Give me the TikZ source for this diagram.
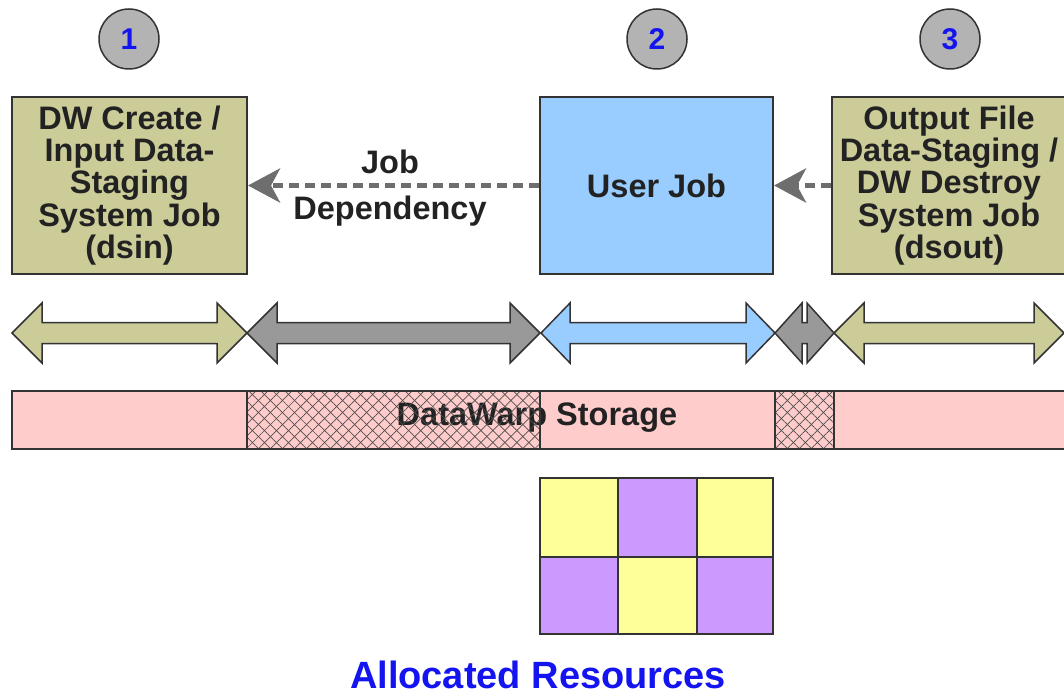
\documentclass[tikz,border=0pt]{standalone}
\usepackage{fontspec}
\setmainfont{Liberation Sans}
\usetikzlibrary{arrows.meta,patterns.meta}
\definecolor{khaki}{HTML}{CCCC99}
\definecolor{ujblue}{HTML}{99CCFF}
\definecolor{circgray}{HTML}{B3B3B3}
\definecolor{arrgray}{HTML}{999999}
\definecolor{dashgray}{HTML}{6E6E6E}
\definecolor{pinkst}{HTML}{FFCCCC}
\definecolor{ryellow}{HTML}{FFFF99}
\definecolor{rpurple}{HTML}{CC99FF}
\definecolor{edgec}{HTML}{333333}
\definecolor{numblue}{HTML}{1414F0}
\definecolor{txt}{HTML}{222222}
\newcommand\dwarrow[4]{% fill, left tip, right tip, head length
  \draw[tl,fill=#1] (#2,333) -- (#2+#4,303) -- (#2+#4,322.5) -- (#3-#4,322.5) -- (#3-#4,303) -- (#3,333) -- (#3-#4,363) -- (#3-#4,343.5) -- (#2+#4,343.5) -- (#2+#4,363) -- cycle;}
\begin{document}
\begin{tikzpicture}[x=1pt,y=-1pt,
  bigfont/.style={font=\fontsize{32.5}{32.3}\selectfont\bfseries},
  jobbox/.style={draw=edgec,line width=2pt,bigfont,align=center,inner sep=0pt,text=txt,minimum height=176pt},
  stepcirc/.style={circle,draw=edgec,line width=1.5pt,fill=circgray,minimum size=60pt,inner sep=0pt,font=\fontsize{30}{30}\selectfont\bfseries,text=numblue},
  dep/.style={draw=dashgray,line width=5.5pt,dash pattern=on 10pt off 6pt,-{Stealth[length=32pt,width=34pt,inset=9pt]}},
  tl/.style={draw=edgec,line width=1.5pt,line join=miter},
  lbl/.style={bigfont,text=txt,inner sep=0pt},
  hatch/.style={pattern={Lines[angle=#1,distance=8.5pt,line width=0.7pt]},pattern color=black!70}
]
\useasboundingbox (0,0) rectangle (1064,695);
% step circles
\node[stepcirc] (c1) at (129,39) {1};
\node[stepcirc] (c2) at (657,39) {2};
\node[stepcirc] (c3) at (950,39) {3};
% job boxes
\node[jobbox,fill=khaki,minimum width=235pt] (b1) at (129.5,185.5) {DW Create /\\Input Data-\\Staging\\System Job\\(dsin)};
\node[jobbox,fill=ujblue,minimum width=233pt] (b2) at (656.5,185.5) {User Job};
\node[jobbox,fill=khaki,minimum width=234pt] (b3) at (949,185.5) {Output File\\Data-Staging /\\DW Destroy\\System Job\\(dsout)};
% dependencies
\draw[dep] (b2.west) -- (b1.east);
\draw[dep] (b3.west) -- (b2.east);
\node[lbl] (jl1) at (390,162) {Job};
\node[lbl] (jl2) at (390,211) {Dependency};
% timeline arrows
\dwarrow{khaki}{12}{247}{30}
\dwarrow{arrgray}{247}{540}{30}
\dwarrow{ujblue}{541}{775}{29}
\dwarrow{arrgray}{775}{834}{27}
\dwarrow{khaki}{834}{1064}{30}
% storage
\draw[tl,fill=pinkst] (12,391) rectangle (1066,449);
\node[lbl] (st) at (537,418) {DataWarp Storage};
\fill[hatch=45] (247,391) rectangle (540,449);
\fill[hatch=-45] (247,391) rectangle (540,449);
\draw[tl] (247,391) rectangle (540,449);
\fill[hatch=45] (775,391) rectangle (834,449);
\fill[hatch=-45] (775,391) rectangle (834,449);
\draw[tl] (775,391) rectangle (834,449);
% resources
\draw[tl,fill=ryellow] (540,478) rectangle (618,557);
\draw[tl,fill=rpurple] (618,478) rectangle (697,557);
\draw[tl,fill=ryellow] (697,478) rectangle (773,557);
\draw[tl,fill=rpurple] (540,557) rectangle (618,634);
\draw[tl,fill=ryellow] (618,557) rectangle (697,634);
\draw[tl,fill=rpurple] (697,557) rectangle (773,634);
\node[font=\fontsize{38}{38}\selectfont\bfseries,text=numblue,inner sep=0pt] (ar) at (538,675) {Allocated Resources};
\end{tikzpicture}
\end{document}
